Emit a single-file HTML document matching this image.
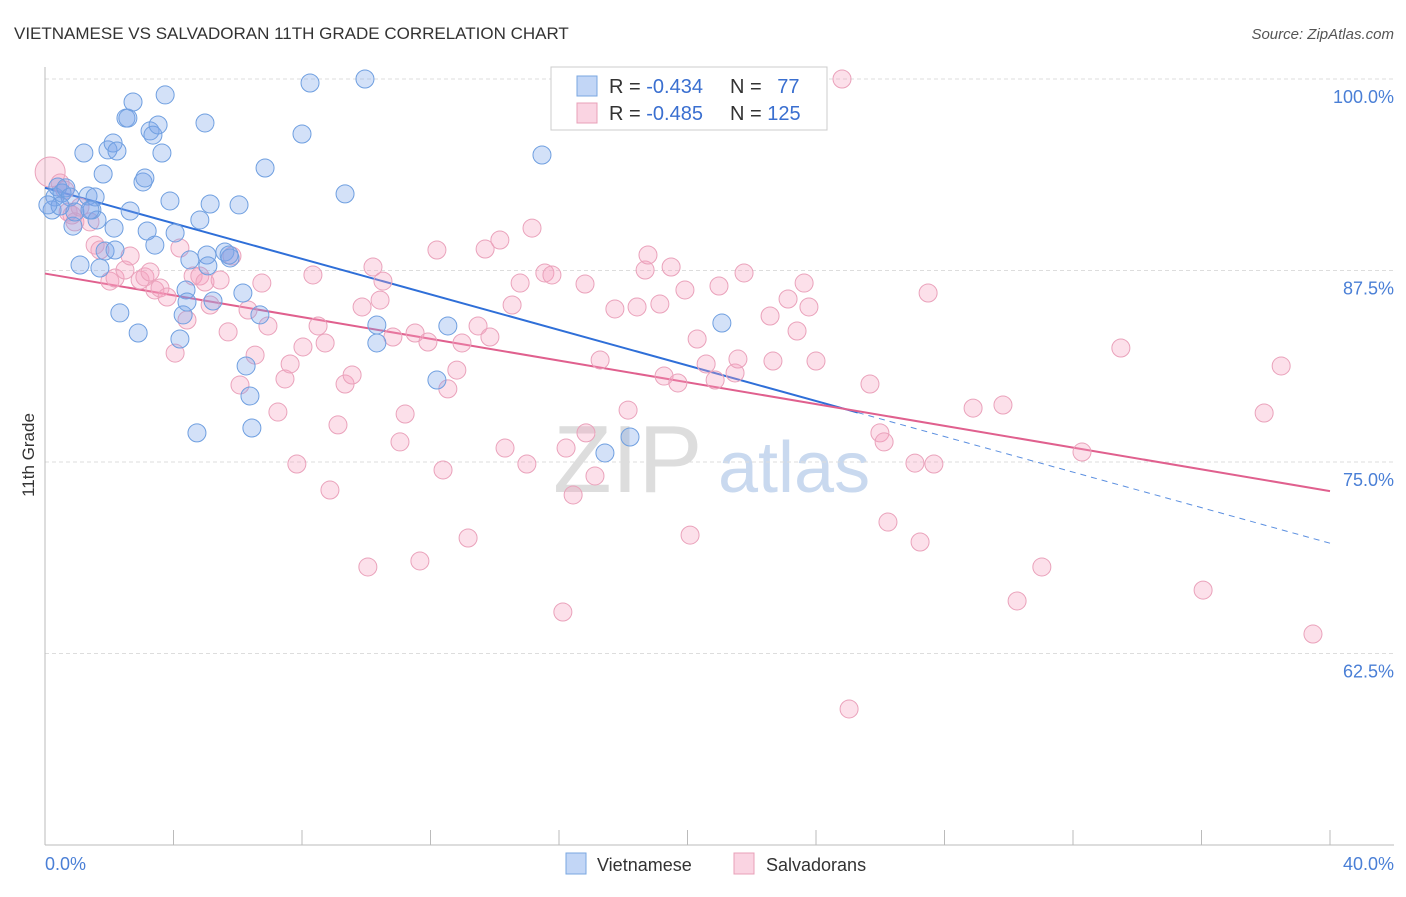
<!DOCTYPE html>
<html><head><meta charset="utf-8"><style>
body{margin:0;background:#fff;font-family:"Liberation Sans",sans-serif;}
svg text{font-family:"Liberation Sans",sans-serif;}
</style></head><body>
<svg id="chart" width="1406" height="892">
<text x="14" y="39" font-size="17" fill="#333">VIETNAMESE VS SALVADORAN 11TH GRADE CORRELATION CHART</text>
<text x="1394" y="39" font-size="15" fill="#555" text-anchor="end" font-style="italic">Source: ZipAtlas.com</text>
<g>
<text x="553" y="492" font-size="96" fill="#ddd" font-family="Liberation Serif">ZIP</text>
<text x="718" y="492" font-size="72" fill="#c9d9ef">atlas</text>
</g>
<g id="grid"></g><g id="axes"></g><g id="trends"></g><g id="points"></g>
<text transform="translate(34,455) rotate(-90)" font-size="17" fill="#333" text-anchor="middle">11th Grade</text>
<text x="45" y="870" font-size="18" fill="#4a7fd6">0.0%</text>
<text x="1394" y="870" font-size="18" fill="#4a7fd6" text-anchor="end">40.0%</text>
<g>
<rect x="551" y="67" width="276" height="63" fill="#fff" stroke="#ccc"/>
<rect x="577" y="76" width="20" height="20" fill="rgba(120,165,235,0.45)" stroke="#7aa7e0"/>
<rect x="577" y="103" width="20" height="20" fill="rgba(245,160,190,0.45)" stroke="#e8a0b8"/>
<text x="609" y="93" font-size="20" fill="#333">R = <tspan fill="#3a6fd0">-0.434</tspan></text>
<text x="730" y="93" font-size="20" fill="#333">N = <tspan fill="#3a6fd0" dx="10">77</tspan></text>
<text x="609" y="120" font-size="20" fill="#333">R = <tspan fill="#3a6fd0">-0.485</tspan></text>
<text x="730" y="120" font-size="20" fill="#333">N = <tspan fill="#3a6fd0">125</tspan></text>
</g>
<g>
<rect x="566" y="853" width="20" height="21" fill="rgba(120,165,235,0.45)" stroke="#7aa7e0"/>
<text x="597" y="871" font-size="18" fill="#333">Vietnamese</text>
<rect x="734" y="853" width="20" height="21" fill="rgba(245,160,190,0.45)" stroke="#e8a0b8"/>
<text x="766" y="871" font-size="18" fill="#333">Salvadorans</text>
</g>
</svg>
<script>
const yTicks=[100,87.5,75,62.5];
const yTickLabels=["100.0%","87.5%","75.0%","62.5%"];
const xTickVals=[0,4,8,12,16,20,24,28,32,36,40];
const blueX=[0.22,0.31,0.40,0.53,0.65,0.78,0.87,0.93,1.21,1.09,1.34,1.46,1.56,1.62,1.71,1.81,1.87,1.96,2.12,2.24,2.15,2.33,2.52,2.58,2.65,2.74,2.90,3.05,3.11,3.18,3.27,3.36,3.42,3.52,3.64,3.74,3.89,4.05,4.20,4.30,4.39,4.42,4.51,4.73,4.82,4.98,5.04,5.14,5.23,5.07,5.60,5.76,6.04,6.16,6.26,6.38,6.44,6.69,6.85,8.00,8.25,9.34,9.96,10.33,10.33,12.20,12.54,15.47,17.43,18.21,21.07,5.73,0.47,0.09,2.18,1.40];
const blueY=[91.45,92.3,92.95,92.56,92.89,92.3,90.4,91.32,95.17,87.86,92.36,91.45,92.3,90.8,87.66,93.8,88.77,95.37,95.82,95.3,90.27,84.73,97.45,97.45,91.38,98.5,83.42,93.28,93.54,90.08,96.61,96.34,89.16,97.0,95.17,98.96,92.04,89.95,83.03,84.6,86.23,85.44,88.19,76.9,90.8,97.13,88.51,91.84,85.51,87.8,88.71,88.32,91.78,86.03,81.27,79.31,77.22,84.6,94.19,96.41,99.74,92.5,100,83.94,82.77,80.35,83.88,95.04,75.59,76.63,84.07,88.51,91.71,91.78,88.84,91.45];
const pinkX=[0.16,0.47,0.62,0.72,0.84,0.93,1.09,1.40,1.56,1.71,2.02,2.18,2.49,2.65,2.96,3.11,3.27,3.42,3.58,3.80,4.05,4.20,4.42,4.61,4.82,4.98,5.14,5.45,5.70,5.82,6.07,6.32,6.54,6.75,6.94,7.25,7.47,7.63,7.84,8.03,8.34,8.50,8.72,8.87,9.12,9.34,9.56,9.87,10.05,10.21,10.43,10.52,10.83,11.05,11.21,11.52,11.67,11.92,12.20,12.39,12.54,12.82,12.98,13.17,13.48,13.70,13.85,14.16,14.32,14.54,14.79,15.00,15.16,15.56,15.78,16.12,16.22,16.44,16.81,16.84,17.12,17.28,17.74,18.15,18.43,18.68,18.77,19.14,19.27,19.49,19.70,19.92,20.08,20.30,20.58,20.86,20.98,21.48,21.57,21.76,22.57,22.66,23.13,23.41,23.63,23.78,24.00,24.81,25.03,25.68,25.99,26.12,26.24,27.08,27.24,27.49,27.67,28.89,29.82,30.26,31.03,32.28,33.49,36.05,37.95,38.48,39.47];
const pinkY=[93.93,93.21,92.75,91.32,91.12,90.67,91.64,90.67,89.16,88.84,86.81,87.01,87.53,88.45,86.88,87.08,87.4,86.23,86.36,85.77,82.11,88.97,84.27,87.14,87.14,86.75,85.25,86.88,83.49,88.45,80.03,84.92,81.98,86.68,83.88,78.26,80.42,81.4,74.87,82.51,87.21,83.88,82.77,73.17,77.42,80.09,80.68,85.12,68.15,87.73,85.57,86.81,83.16,76.31,78.13,83.42,68.54,82.83,88.84,74.48,79.77,81.0,82.77,70.04,83.88,88.9,83.16,89.49,75.91,85.25,86.68,74.87,90.27,87.34,87.21,65.21,75.91,72.85,86.62,76.9,74.09,81.66,84.99,78.39,85.12,87.53,88.51,85.31,80.61,87.73,80.16,86.23,70.23,83.03,81.4,80.35,86.49,80.81,81.72,87.34,84.53,81.59,85.64,83.55,86.68,85.12,81.59,100,58.88,80.09,76.9,76.31,71.08,74.93,69.78,86.03,74.87,78.52,78.72,65.93,68.15,75.65,82.44,66.64,78.2,81.27,63.77];
const blueTrend=[92.9,69.7];
const pinkTrend=[87.3,73.1];
const blueSolidEnd=25.3;
const NS="http://www.w3.org/2000/svg";
function sx(v){return 45+v/40*1285;}
function sy(v){return 79+(100-v)*15.32;}
function mk(tag,attrs,parent){const e=document.createElementNS(NS,tag);for(const k in attrs)e.setAttribute(k,attrs[k]);document.getElementById(parent).appendChild(e);return e;}
yTicks.forEach((t,i)=>{
  const l=mk('line',{x1:45,x2:1394,y1:sy(t),y2:sy(t),stroke:'#ddd','stroke-dasharray':'4,3'},'grid');
  
  
  const tx=mk('text',{x:1394,y:sy(t)+24,'font-size':18,fill:'#4a7fd6','text-anchor':'end'},'grid');
  tx.textContent=yTickLabels[i];
  
  
});
let a=mk('line',{x1:45,x2:45,y1:67,y2:845,stroke:'#bbb'},'axes');


a=mk('line',{x1:45,x2:1394,y1:845,y2:845,stroke:'#bbb'},'axes');


xTickVals.forEach(v=>{
  const t=mk('line',{x1:sx(v),x2:sx(v),y1:830,y2:845,stroke:'#bbb'},'axes');
  
  
});
function trendY(tr,x){return tr[0]+(tr[1]-tr[0])*x/40;}
let t=mk('line',{x1:sx(0),y1:sy(trendY(blueTrend,0)),x2:sx(blueSolidEnd),y2:sy(trendY(blueTrend,blueSolidEnd)),stroke:'#2f6fd8','stroke-width':2},'trends');


t=mk('line',{x1:sx(blueSolidEnd),y1:sy(trendY(blueTrend,blueSolidEnd)),x2:sx(40),y2:sy(trendY(blueTrend,40)),stroke:'#5b8fe0','stroke-width':1,'stroke-dasharray':'6,5'},'trends');


t=mk('line',{x1:sx(0),y1:sy(trendY(pinkTrend,0)),x2:sx(40),y2:sy(trendY(pinkTrend,40)),stroke:'#e0608e','stroke-width':2},'trends');


pinkX.forEach((x,i)=>{
  const c=mk('circle',{cx:sx(x),cy:sy(pinkY[i]),r:i===0?15:9,fill:'rgba(245,160,190,0.33)',stroke:'#eaa2bb','stroke-width':1},'points');
  
  
});
blueX.forEach((x,i)=>{
  const c=mk('circle',{cx:sx(x),cy:sy(blueY[i]),r:9,fill:'rgba(120,165,235,0.33)',stroke:'#6f9fe0','stroke-width':1},'points');
  
  
});
</script>
</body></html>
